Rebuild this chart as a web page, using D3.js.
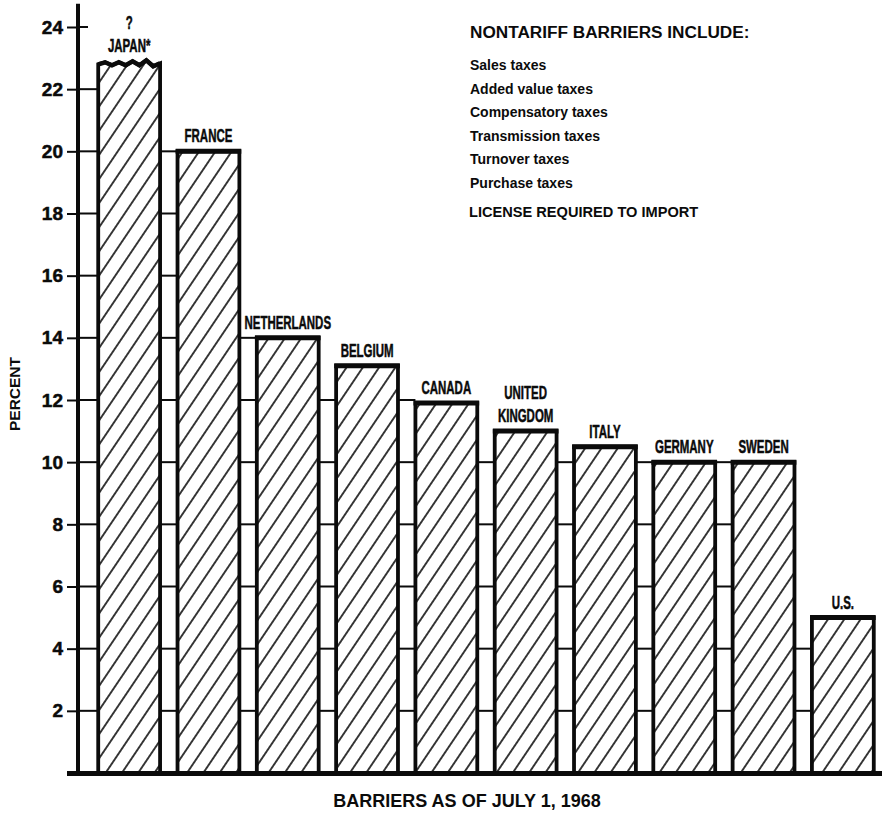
<!DOCTYPE html>
<html>
<head>
<meta charset="utf-8">
<script src="https://cdn.jsdelivr.net/npm/d3@7"></script>
<style>
  html, body { margin: 0; padding: 0; background: #fff; }
  svg { display: block; }
</style>
</head>
<body>
<svg id="chart" width="882" height="814"></svg>
<script>
// Nontariff barriers by country, percent (as of July 1, 1968)
const countries = ["JAPAN*", "FRANCE", "NETHERLANDS", "BELGIUM", "CANADA",
                   "UNITED KINGDOM", "ITALY", "GERMANY", "SWEDEN", "U.S."];
const percent = [22.8, 20, 14, 13.1, 11.9, 11, 10.5, 10, 10, 5];
const labelLines = [["?", "JAPAN*"], ["FRANCE"], ["NETHERLANDS"], ["BELGIUM"], ["CANADA"],
                    ["UNITED", "KINGDOM"], ["ITALY"], ["GERMANY"], ["SWEDEN"], ["U.S."]];
const tickValues = [2, 4, 6, 8, 10, 12, 14, 16, 18, 20, 22, 24];
const noteTitle = "NONTARIFF BARRIERS INCLUDE:";
const noteItems = ["Sales taxes", "Added value taxes", "Compensatory taxes",
                   "Transmission taxes", "Turnover taxes", "Purchase taxes"];
const noteFooter = "LICENSE REQUIRED TO IMPORT";
const xTitle = "BARRIERS AS OF JULY 1, 1968";
const yTitle = "PERCENT";
// the Japanese figure is uncertain; its bar is drawn with a torn top edge
const tornTop = [0, -2, 1, -2, 1, -3, 1, -4, 2, -1];

const svg = d3.select("#chart");
const INK = "#0b0b0b";
const tickFont = "'Liberation Sans', Arial, sans-serif";

const y = d3.scaleLinear().domain([0, 24]).range([773, 27]);
const x = d3.scaleBand().domain(countries).range([89.5, 882.5])
  .paddingInner(0.22).paddingOuter(0.11);
const bw = x.bandwidth();
const axisX = 78;
const base = y(0);

// diagonal hatching used inside the bars
const defs = svg.append("defs");
const pat = defs.append("pattern").attr("id", "hatch")
  .attr("patternUnits", "userSpaceOnUse")
  .attr("width", 13.5).attr("height", 13.5)
  .attr("patternTransform", "rotate(34)");
pat.append("rect").attr("width", 13.5).attr("height", 13.5).attr("fill", "#fff");
pat.append("line").attr("x1", 6.75).attr("x2", 6.75).attr("y1", -1).attr("y2", 14.5)
  .attr("stroke", INK).attr("stroke-width", 1.6);

// gridlines in the gaps between neighbouring bars, up to the lower neighbour
const gaps = countries.map((c, i) => ({
  x0: i === 0 ? axisX : x(countries[i - 1]) + bw,
  x1: x(c),
  limit: i === 0 ? percent[0] : Math.min(percent[i - 1], percent[i])
}));
const gridG = svg.append("g");
gaps.forEach(g => {
  tickValues.filter(t => t <= g.limit + 0.2).forEach(t => {
    gridG.append("line")
      .attr("x1", g.x0).attr("x2", g.x1)
      .attr("y1", y(t)).attr("y2", y(t))
      .attr("stroke", INK).attr("stroke-width", 2);
  });
});
// ticks above every bar get a short stub to the right of the axis
tickValues.filter(t => t > percent[0]).forEach(t => {
  gridG.append("line").attr("x1", axisX).attr("x2", axisX + 10)
    .attr("y1", y(t)).attr("y2", y(t))
    .attr("stroke", INK).attr("stroke-width", 2);
});

// y axis: tick marks and labels
const axisG = svg.append("g").attr("transform", `translate(${axisX},0)`)
  .call(d3.axisLeft(y).tickValues(tickValues).tickSize(11).tickPadding(4));
axisG.select(".domain").remove();
axisG.selectAll(".tick line").attr("stroke", INK).attr("stroke-width", 2);
axisG.selectAll(".tick text")
  .attr("fill", INK)
  .attr("stroke", INK).attr("stroke-width", 0.5)
  .style("font-family", tickFont)
  .style("font-weight", "bold")
  .style("font-size", "19px");

// vertical axis line
svg.append("line").attr("x1", axisX).attr("x2", axisX)
  .attr("y1", y(24.75)).attr("y2", base)
  .attr("stroke", INK).attr("stroke-width", 4);

// bars
const barsG = svg.append("g");
countries.forEach((c, i) => {
  const x0 = x(c), x1 = x0 + bw, top = y(percent[i]);
  if (i === 0) {
    const n = tornTop.length - 1;
    const topPts = tornTop.map((d, k) => [x0 + bw * k / n, top + d]);
    const outline = [[x0, base], ...topPts, [x1, base]];
    barsG.append("path")
      .attr("d", d3.line()(outline) + "Z")
      .attr("fill", "url(#hatch)")
      .attr("stroke", INK).attr("stroke-width", 3.8)
      .attr("stroke-linejoin", "miter");
    barsG.append("path").attr("d", d3.line()(topPts))
      .attr("fill", "none").attr("stroke", INK).attr("stroke-width", 4.5);
  } else {
    barsG.append("rect")
      .attr("x", x0).attr("y", top).attr("width", bw).attr("height", base - top)
      .attr("fill", "url(#hatch)")
      .attr("stroke", INK).attr("stroke-width", 3.8);
    barsG.append("line").attr("x1", x0 - 1.9).attr("x2", x1 + 1.9)
      .attr("y1", top).attr("y2", top)
      .attr("stroke", INK).attr("stroke-width", 5);
  }
});

// baseline
svg.append("line").attr("x1", 67).attr("x2", 882)
  .attr("y1", base + 0.5).attr("y2", base + 0.5)
  .attr("stroke", INK).attr("stroke-width", 5);

// country names above the bars, set in a condensed face
const squeeze = 0.62;
const labG = svg.append("g").attr("transform", `scale(${squeeze},1)`);
countries.forEach((c, i) => {
  const cx = x(c) + bw / 2;
  const top = i === 0 ? y(percent[i]) - 3 : y(percent[i]);
  const lines = labelLines[i];
  lines.forEach((ln, k) => {
    labG.append("text")
      .attr("x", cx / squeeze)
      .attr("y", top - 9 - (lines.length - 1 - k) * 23.5)
      .attr("text-anchor", "middle")
      .attr("fill", INK)
      .attr("stroke", INK).attr("stroke-width", 0.5)
      .style("font-family", tickFont)
      .style("font-weight", "bold")
      .style("font-size", "18.5px")
      .text(ln);
  });
});

// list of barrier types
const noteG = svg.append("g").attr("fill", INK)
  .style("font-family", tickFont).style("font-weight", "bold");
noteG.append("text").attr("x", 470).attr("y", 38)
  .style("font-size", "17.2px").text(noteTitle);
noteItems.forEach((t, k) => {
  noteG.append("text").attr("x", 470).attr("y", 70 + k * 23.6)
    .style("font-size", "14px").text(t);
});
noteG.append("text").attr("x", 469).attr("y", 217)
  .style("font-size", "14.6px").text(noteFooter);

// axis titles
svg.append("text").attr("x", 467).attr("y", 807)
  .attr("text-anchor", "middle").attr("fill", INK)
  .style("font-family", tickFont).style("font-weight", "bold").style("font-size", "18px")
  .text(xTitle);
svg.append("text")
  .attr("transform", "translate(20,394) rotate(-90)")
  .attr("text-anchor", "middle").attr("fill", INK)
  .style("font-family", tickFont).style("font-weight", "bold").style("font-size", "15.5px")
  .text(yTitle);
</script>
</body>
</html>
